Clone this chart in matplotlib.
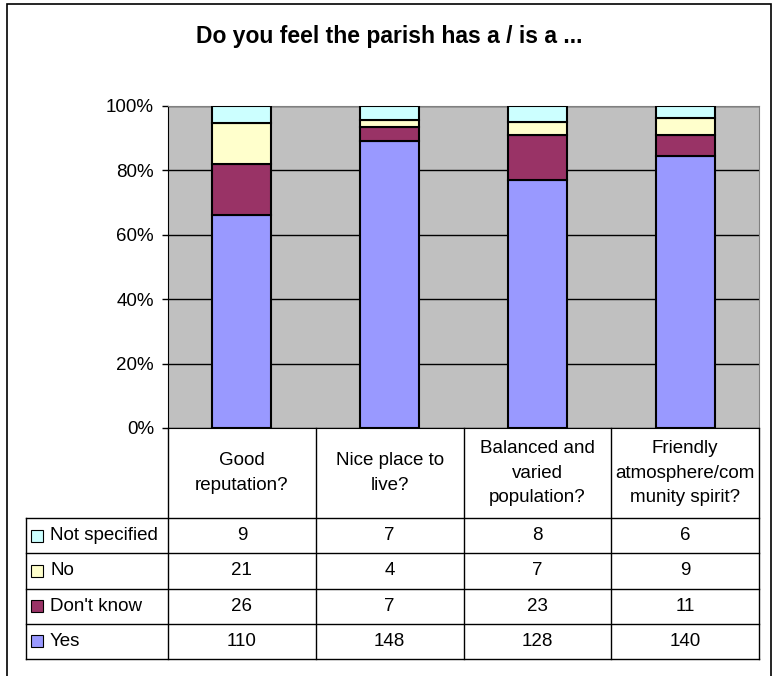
import numpy as np
import matplotlib
matplotlib.use('Agg')
import matplotlib.pyplot as plt
from matplotlib.patches import Rectangle
from matplotlib.ticker import PercentFormatter

plt.rcParams['font.family'] = ['Liberation Sans', 'DejaVu Sans']

# survey answers per question
categories = ['Good\nreputation?', 'Nice place to\nlive?',
              'Balanced and\nvaried\npopulation?',
              'Friendly\natmosphere/com\nmunity spirit?']
yes = [110, 148, 128, 140]
dont_know = [26, 7, 23, 11]
no = [21, 4, 7, 9]
not_specified = [9, 7, 8, 6]

series_names = ['Yes', "Don't know", 'No', 'Not specified']
series_values = [yes, dont_know, no, not_specified]
series_colors = ['#9999FF', '#993366', '#FFFFCC', '#CCFFFF']

W, H = 775, 676
fig = plt.figure(figsize=(W / 100, H / 100), dpi=100)


def px_axes(x0, y0, x1, y1):
    return fig.add_axes([x0 / W, 1 - y1 / H, (x1 - x0) / W, (y1 - y0) / H])


# stacked 100% columns
ax = px_axes(168, 106, 759, 428)
ax.set_facecolor('#C0C0C0')
data = np.array(series_values, dtype=float)
totals = data.sum(axis=0)
x = np.arange(len(categories))
bottom = np.zeros(len(categories))
for name, vals, col in zip(series_names, data, series_colors):
    share = vals / totals
    ax.bar(x, share, width=0.4, bottom=bottom, color=col, edgecolor='black',
           linewidth=1.5, zorder=3)
    bottom += share

ax.set_xlim(-0.5, 3.5)
ax.set_ylim(0, 1)
ax.set_yticks(np.arange(0, 1.01, 0.2))
ax.yaxis.set_major_formatter(PercentFormatter(1.0, decimals=0))
ax.set_xticks([])
ax.grid(axis='y', color='black', linewidth=1, zorder=0)
ax.set_axisbelow(True)
ax.tick_params(axis='y', length=4, width=1, labelsize=13.5, pad=6)
for s in ['top', 'right']:
    ax.spines[s].set_color('#808080')
ax.spines['left'].set_color('black')
ax.spines['bottom'].set_color('black')

# data table under the chart
cat_w = (759 - 168) / 4
left_w = (168 - 26) / cat_w
tax = px_axes(26, 428, 759, 659)
tax.set_xlim(-0.5 - left_w, 3.5)
tax.set_ylim(231, 0)
tax.axis('off')

head_h = 90
row_h = (231 - head_h) / 4
x_left = -0.5 - left_w
for cx in np.arange(-0.5, 4.0, 1.0):
    tax.plot([cx, cx], [0, 231], color='black', lw=1, clip_on=False)
tax.plot([x_left, x_left], [head_h, 231], color='black', lw=1, clip_on=False)
for r in range(5):
    yy = head_h + r * row_h
    tax.plot([x_left, 3.5], [yy, yy], color='black', lw=1, clip_on=False)

for i, cat in enumerate(categories):
    tax.text(i, head_h / 2, cat, ha='center', va='center', fontsize=13.5,
             linespacing=1.55)

row_order = list(zip(series_names, series_values, series_colors))[::-1]
for r, (name, vals, col) in enumerate(row_order):
    yc = head_h + (r + 0.5) * row_h
    tax.plot([x_left + 11 / cat_w], [yc], marker='s', markersize=8.5,
             markerfacecolor=col, markeredgecolor='black', markeredgewidth=0.8,
             clip_on=False)
    tax.text(x_left + 24 / cat_w, yc, name, ha='left', va='center',
             fontsize=13.5)
    for i, v in enumerate(vals):
        tax.text(i, yc, str(v), ha='center', va='center', fontsize=13.5)

fig.text(389 / W, 1 - 37 / H, 'Do you feel the parish has a / is a ...',
         ha='center', va='center', fontsize=16.5, fontweight='bold')

# chart frame
fig.patches.append(Rectangle((7 / W, -0.05), (771 - 7) / W, 1 - 4 / H + 0.05,
                             transform=fig.transFigure, fill=False,
                             edgecolor='black', linewidth=1.2))

fig.savefig('out.png', dpi=100)
